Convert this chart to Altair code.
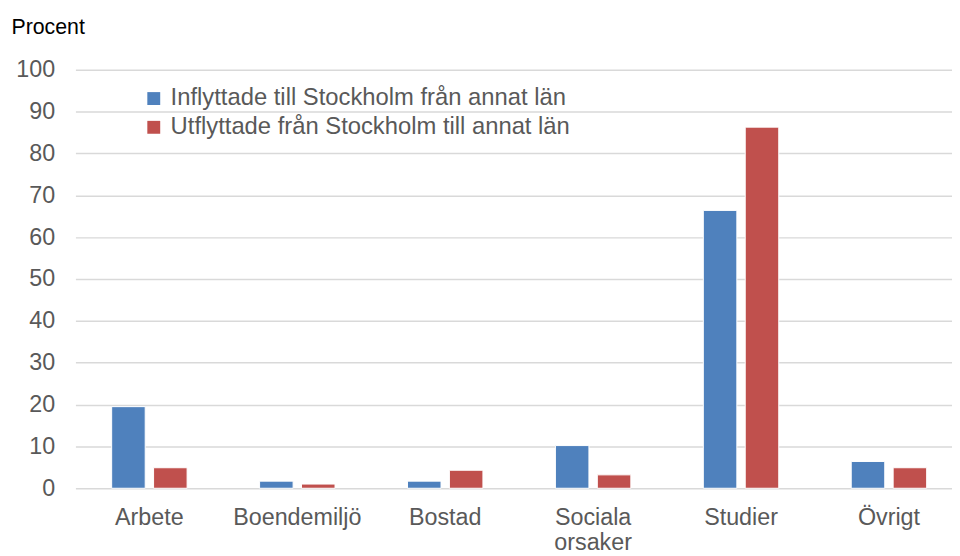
import altair as alt
import pandas as pd

categories = ["Arbete", "Boendemiljö", "Bostad", "Sociala orsaker", "Studier", "Övrigt"]
series_names = ["Inflyttade till Stockholm från annat län", "Utflyttade från Stockholm till annat län"]
inflyttade = [19.5, 1.7, 1.7, 10.2, 66.4, 6.4]
utflyttade = [4.9, 1.0, 4.3, 3.2, 86.3, 4.9]
colors = ["#4F81BD", "#C0504D"]

rows = []
for c, a, b in zip(categories, inflyttade, utflyttade):
    rows.append({"kat": c, "serie": series_names[0], "varde": a})
    rows.append({"kat": c, "serie": series_names[1], "varde": b})
df = pd.DataFrame(rows)

FONT = "Arial, Liberation Sans, sans-serif"

chart = alt.Chart(df).mark_bar(stroke="white", strokeWidth=1).encode(
    x=alt.X("kat:N", sort=categories, title=None,
            scale=alt.Scale(range=[0, 895], paddingInner=0.49, paddingOuter=0.245),
            axis=alt.Axis(labelAngle=0, labelFontSize=23.5, labelColor="#595959", labelFont=FONT,
                          labelPadding=18, ticks=False, domain=False,
                          labelExpr="split(datum.label, ' ')", labelLineHeight=25)),
    xOffset=alt.XOffset("serie:N", sort=series_names,
                        scale=alt.Scale(paddingInner=0.2, paddingOuter=0)),
    y=alt.Y("varde:Q",
            scale=alt.Scale(domain=[0, 100], nice=False),
            axis=alt.Axis(values=list(range(0, 101, 10)), labelFontSize=23.5, labelColor="#595959",
                          labelFont=FONT, labelPadding=21, ticks=False, domain=False,
                          gridColor="#D9D9D9", gridWidth=1.5,
                          title="Procent", titleAngle=0, titleX=-65, titleY=-37,
                          titleAlign="left", titleBaseline="alphabetic",
                          titleFontSize=21.5, titleFont=FONT, titleFontWeight="normal",
                          titleColor="#000000")),
    color=alt.Color("serie:N", sort=series_names,
                    scale=alt.Scale(domain=series_names, range=colors),
                    legend=alt.Legend(title=None, orient="none", legendX=67, legendY=17,
                                      symbolType="square", symbolSize=169, symbolStrokeWidth=0,
                                      labelFontSize=24, labelColor="#595959", labelFont=FONT,
                                      labelOffset=5, rowPadding=5, labelLimit=700)),
).properties(
    width=884,
    height=422,
    autosize=alt.AutoSizeParams(type="none"),
    padding={"left": 68, "top": 60, "right": 0, "bottom": 66},
).configure_view(stroke=None)

chart.save("out.html", embed_options={"renderer": "svg", "actions": False})
